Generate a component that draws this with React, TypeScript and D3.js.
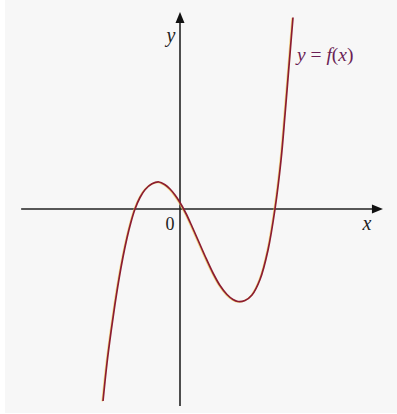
import React from "react";
import * as d3 from "d3";

// curve sample points (math units, 1 unit = 45px)
const curveX = [-1.711, -1.622, -1.533, -1.444, -1.356, -1.267, -1.178, -1.089, -1.0, -0.889, -0.778, -0.622, -0.467, -0.333, -0.222, -0.111, 0, 0.133, 0.267, 0.4, 0.556, 0.733, 0.889, 1.044, 1.178, 1.289, 1.444, 1.6, 1.778, 1.956, 2.111, 2.244, 2.333, 2.422, 2.511];
const curveY = [-4.267, -3.422, -2.733, -2.111, -1.556, -1.067, -0.644, -0.289, 0, 0.256, 0.429, 0.56, 0.6, 0.538, 0.444, 0.311, 0.144, -0.1, -0.389, -0.689, -1.044, -1.422, -1.7, -1.9, -2.011, -2.056, -2.033, -1.911, -1.567, -0.911, 0, 1.078, 2.089, 3.178, 4.256];

const xAxisRange = [-3.53, 4.51];
const yAxisRange = [-4.38, 4.38];
const axisLabels = { x: "x", y: "y", origin: "0", curve: ["y", " = ", "f", "(", "x", ")"] };

const W = 397;
const H = 414;

export default function App() {
  const x = d3.scaleLinear().domain([0, 1]).range([180, 225]);
  const y = d3.scaleLinear().domain([0, 1]).range([209, 164]);
  const pts: [number, number][] = curveX.map((v, i) => [v, curveY[i]]);
  const line = d3
    .line<[number, number]>()
    .x((d) => x(d[0]))
    .y((d) => y(d[1]))
    .curve(d3.curveCatmullRom.alpha(0.5));
  const path = line(pts) || "";

  const x0 = x(0);
  const y0 = y(0);
  const xEnd = x(xAxisRange[1]);
  const yTop = y(yAxisRange[1]);
  const serif = "'Liberation Serif', 'DejaVu Serif', serif";

  return (
    <div style={{ position: "absolute", left: 0, top: 0 }}>
      <svg width={W} height={H} style={{ display: "block" }}>
        <rect x={0} y={0} width={W} height={H} fill="#ffffff" />
        <rect x={5} y={0} width={W - 5} height={413} fill="#f7f7f7" />
        {/* axes */}
        <line x1={x(xAxisRange[0])} y1={y0} x2={xEnd - 6} y2={y0} stroke="#222" strokeWidth={1.6} />
        <path d={`M${xEnd},${y0} L${xEnd - 11},${y0 - 4.5} L${xEnd - 11},${y0 + 4.5} Z`} fill="#111" />
        <line x1={x0} y1={y(yAxisRange[0])} x2={x0} y2={yTop + 6} stroke="#222" strokeWidth={1.6} />
        <path d={`M${x0},${yTop} L${x0 - 4.5},${yTop + 11} L${x0 + 4.5},${yTop + 11} Z`} fill="#111" />
        {/* curve with slight scan fringe */}
        <path d={path} fill="none" stroke="#f0c850" strokeWidth={1.6} transform="translate(-0.8,0.4)" opacity={0.7} />
        <path d={path} fill="none" stroke="#8c1c30" strokeWidth={1.7} />
        {/* labels */}
        <text x={171} y={42} fontFamily={serif} fontStyle="italic" fontSize={20} textAnchor="middle" fill="#222">
          {axisLabels.y}
        </text>
        <text x={367} y={230} fontFamily={serif} fontStyle="italic" fontSize={20} textAnchor="middle" fill="#222">
          {axisLabels.x}
        </text>
        <text x={170} y={230} fontFamily={serif} fontSize={18} textAnchor="middle" fill="#222">
          {axisLabels.origin}
        </text>
        <text x={297} y={61} fontFamily={serif} fontSize={19.5} fill="#6b1f55">
          <tspan fontStyle="italic">{axisLabels.curve[0]}</tspan>
          <tspan>{axisLabels.curve[1]}</tspan>
          <tspan fontStyle="italic">{axisLabels.curve[2]}</tspan>
          <tspan>{axisLabels.curve[3]}</tspan>
          <tspan fontStyle="italic">{axisLabels.curve[4]}</tspan>
          <tspan>{axisLabels.curve[5]}</tspan>
        </text>
      </svg>
    </div>
  );
}
